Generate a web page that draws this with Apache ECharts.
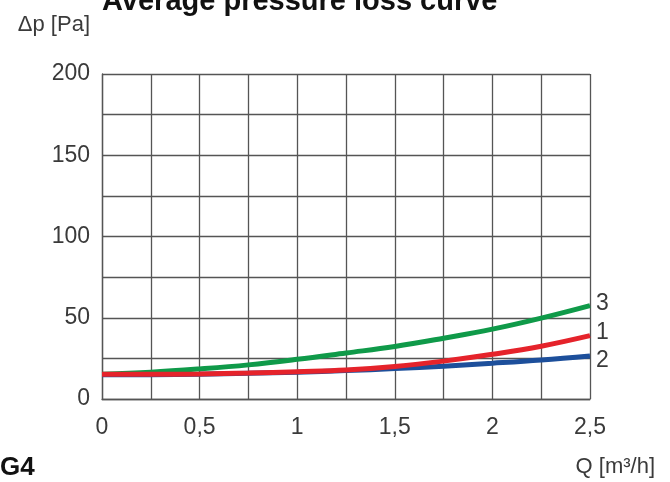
<!DOCTYPE html>
<html>
<head>
<meta charset="utf-8">
<script src="https://cdn.jsdelivr.net/npm/echarts@6/dist/echarts.min.js"></script>
<style>
  html, body { margin: 0; padding: 0; background: #fff; }
  #chart { width: 670px; height: 482px; }
</style>
</head>
<body>
<div id="chart"></div>
<script>
// Flow rate Q [m³/h], sampled every 0.25
const flow = [0, 0.25, 0.5, 0.75, 1, 1.25, 1.5, 1.75, 2, 2.25, 2.5];

// Pressure loss Δp [Pa] for each curve
const curve3 = [15.3, 16.5, 18.5, 21.0, 24.4, 28.3, 32.3, 37.4, 43.0, 49.8, 57.5];
const curve1 = [15.2, 15.2, 15.4, 16.0, 16.8, 17.8, 20.0, 23.3, 27.5, 32.5, 39.0];
const curve2 = [15.0, 15.0, 15.2, 15.8, 16.5, 17.5, 18.7, 20.2, 22.0, 24.0, 26.5];

const xTicks = [0, 0.5, 1, 1.5, 2, 2.5];
const yTicks = [0, 50, 100, 150, 200];

const FONT = '"Liberation Sans", Arial, sans-serif';
const GRID_COLOR = '#555';
const TEXT_COLOR = '#3a3a3a';

function pairs(ys) {
  return flow.map((q, i) => [q, ys[i]]);
}

function curve(name, ys, color, offset) {
  return {
    name: name,
    type: 'line',
    data: pairs(ys),
    smooth: 0.4,
    symbol: 'none',
    lineStyle: { color: color, width: 5 },
    endLabel: {
      show: true,
      formatter: '{a}',
      distance: 6,
      offset: offset,
      color: TEXT_COLOR,
      fontFamily: FONT,
      fontSize: 23
    }
  };
}

const chart = echarts.init(document.getElementById('chart'), null, { renderer: 'canvas' });

chart.setOption({
  animation: false,
  backgroundColor: '#fff',
  title: {
    text: 'Average pressure loss curve',
    left: 102,
    top: -13,
    padding: 0,
    textStyle: { fontFamily: FONT, fontSize: 29, fontWeight: 'bold', color: '#111' }
  },
  grid: { left: 102, right: 80, top: 74, bottom: 83 },
  xAxis: {
    type: 'value',
    min: 0,
    max: 2.5,
    interval: 0.5,
    axisLine: { show: true, lineStyle: { color: GRID_COLOR, width: 1.3 } },
    axisTick: { show: false },
    splitLine: { show: true, lineStyle: { color: GRID_COLOR, width: 1.3 } },
    minorTick: { show: false, splitNumber: 2 },
    minorSplitLine: { show: true, lineStyle: { color: GRID_COLOR, width: 1.3 } },
    axisLabel: {
      margin: 17,
      color: TEXT_COLOR,
      fontFamily: FONT,
      fontSize: 23,
      formatter: v => xTicks.includes(v) ? String(v).replace('.', ',') : ''
    }
  },
  yAxis: {
    type: 'value',
    min: 0,
    max: 200,
    interval: 50,
    name: 'Δp [Pa]',
    nameLocation: 'end',
    nameGap: 38,
    nameTextStyle: {
      align: 'right',
      padding: [0, 12, 0, 0],
      color: TEXT_COLOR,
      fontFamily: FONT,
      fontSize: 22
    },
    axisLine: { show: true, lineStyle: { color: GRID_COLOR, width: 1.3 } },
    axisTick: { show: false },
    splitLine: { show: true, lineStyle: { color: GRID_COLOR, width: 1.3 } },
    minorTick: { show: false, splitNumber: 2 },
    minorSplitLine: { show: true, lineStyle: { color: GRID_COLOR, width: 1.3 } },
    axisLabel: {
      margin: 12,
      color: TEXT_COLOR,
      fontFamily: FONT,
      fontSize: 23,
      formatter: v => yTicks.includes(v) ? String(v) : ''
    }
  },
  graphic: [
    {
      type: 'text',
      left: 0,
      top: 455,
      style: { text: 'G4', fill: '#111', font: 'bold 26px ' + FONT }
    },
    {
      type: 'text',
      right: 15,
      top: 456,
      style: { text: 'Q [m³/h]', fill: TEXT_COLOR, font: '22px ' + FONT }
    }
  ],
  series: [
    curve('3', curve3, '#0f9a49', [0, -2]),
    curve('2', curve2, '#1d4f9b', [0, 5]),
    curve('1', curve1, '#e5232b', [0, -3])
  ]
});
</script>
</body>
</html>
